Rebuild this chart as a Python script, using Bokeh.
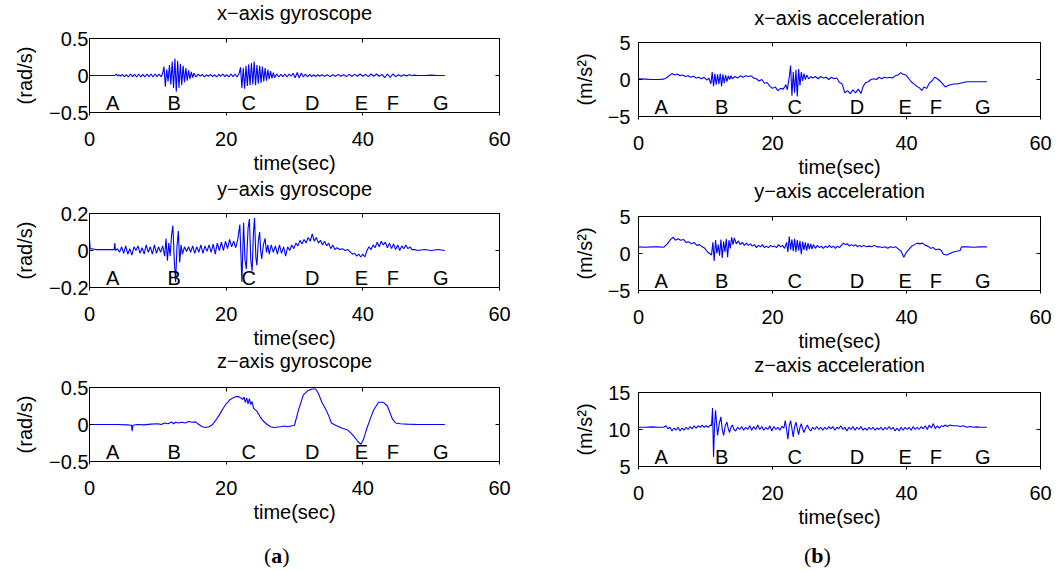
from bokeh.plotting import figure
from bokeh.layouts import row, column
from bokeh.models import Range1d, FixedTicker, LinearAxis, CustomJSTickFormatter
from bokeh.core.properties import value
from bokeh.embed import file_html
from bokeh.resources import INLINE

# ---------------- data ----------------
time_ticks = [0, 20, 40, 60]
event_labels = ["A", "B", "C", "D", "E", "F", "G"]
event_times = [3.4, 12.4, 23.3, 32.6, 39.8, 44.4, 51.4]

gyro_x = [(0,0),(2,0),(3.7,0),(3.9,0.02),(4.1,-0.005),(4.3,0.01),(4.5,-0.01),(4.8,0.015),(5.1,-0.015),(5.4,0.01),(5.7,-0.02),(6.0,0.02),(6.3,-0.015),(6.6,0.015),(6.9,-0.02),(7.2,0.02),(7.5,-0.02),(7.8,0.015),(8.1,-0.02),(8.4,0.02),(8.7,-0.015),(9.0,0.02),(9.3,-0.02),(9.6,0.02),(9.9,-0.015),(10.2,0.02),(10.5,-0.02),(10.7,0.03),
(10.9,0.12),(11.1,-0.15),(11.3,0.08),(11.5,-0.08),(11.7,0.14),(11.9,-0.12),(12.1,0.19),(12.3,-0.17),(12.5,0.23),(12.7,-0.22),(12.9,0.2),(13.1,-0.17),(13.3,0.16),(13.5,-0.13),(13.7,0.13),(13.9,-0.09),(14.1,0.1),(14.3,-0.07),(14.5,0.07),(14.7,-0.05),(14.9,0.05),(15.1,-0.03),(15.3,0.03),
(15.6,-0.02),(15.9,0.02),(16.2,-0.01),(16.5,0.015),(16.8,-0.02),(17.1,0.01),(17.4,-0.01),(17.7,0.015),(18.0,-0.015),(18.3,0.01),(18.6,-0.02),(18.9,0.015),(19.2,-0.01),(19.5,0.02),(19.8,-0.015),(20.1,0.01),(20.4,-0.02),(20.7,0.02),(21.0,-0.015),(21.3,0.02),(21.6,-0.02),(21.9,0.03),
(22.1,0.11),(22.3,-0.17),(22.5,0.1),(22.7,-0.18),(22.9,0.13),(23.1,-0.14),(23.3,0.15),(23.5,-0.13),(23.7,0.17),(23.9,-0.12),(24.1,0.19),(24.3,-0.13),(24.5,0.14),(24.7,-0.11),(24.9,0.13),(25.1,-0.1),(25.3,0.12),(25.5,-0.08),(25.7,0.1),(25.9,-0.07),(26.1,0.08),(26.3,-0.05),(26.5,0.06),(26.7,-0.04),(26.9,0.04),(27.1,-0.03),
(27.4,0.02),(27.7,-0.02),(28.0,0.015),(28.3,-0.015),(28.6,0.02),(28.9,-0.02),(29.2,0.02),(29.5,-0.01),(29.8,0.03),(30.1,-0.03),(30.4,0.04),(30.7,-0.03),(31.0,0.035),(31.3,-0.02),(31.6,0.02),(31.9,-0.02),(32.2,0.015),(32.5,-0.015),(32.8,0.01),(33.1,-0.015),(33.4,0.01),(33.7,-0.01),(34.0,0.01),(34.4,-0.01),(34.8,0.01),(35.2,-0.015),(35.6,0.01),(36.0,-0.01),(36.4,0.015),(36.8,-0.01),(37.2,0.01),(37.6,-0.015),(38.0,0.015),(38.4,-0.01),(38.8,0.015),(39.2,-0.01),(39.6,0.02),(40.0,-0.01),(40.4,0.015),(40.8,-0.015),(41.2,0.02),(41.6,-0.01),(42.0,0.02),(42.4,-0.01),(42.8,0.015),(43.2,-0.03),(43.6,0.02),(44.0,-0.025),(44.4,0.02),(44.8,-0.015),(45.2,0.01),(45.6,-0.01),(46.0,0.01),(46.4,-0.005),(46.8,0.01),(47.2,0.0),(47.6,0.005),(48.0,0.0),(49.0,0.0),(50.0,0.005),(51.0,0.0),(52.0,0.0)]

gyro_y = [(0,0.06),(0.1,0.01),(1,0.005),(2,0.005),(3,0.005),(3.6,0.005),(3.7,0.04),(3.8,0.0),(4.1,0.01),(4.4,-0.01),(4.7,0.02),(5.0,-0.015),(5.3,0.025),(5.6,-0.02),(5.9,0.01),(6.2,-0.025),(6.5,0.02),(6.8,0.0),(7.1,0.025),(7.4,-0.015),(7.7,0.015),(8.0,-0.02),(8.3,0.03),(8.6,-0.01),(8.9,0.02),(9.2,-0.02),(9.5,0.03),(9.8,-0.015),(10.1,0.02),(10.4,-0.01),(10.7,0.025),(11.0,-0.03),(11.2,0.065),(11.4,-0.055),(11.6,0.04),(11.8,-0.03),(12.0,0.08),(12.2,0.135),(12.4,-0.05),(12.6,-0.17),(12.8,0.02),(13.0,0.105),(13.2,-0.065),(13.4,0.03),(13.6,-0.02),(13.9,0.02),(14.2,-0.005),(14.5,0.02),(14.8,-0.01),(15.1,0.025),(15.4,-0.015),(15.7,0.02),(16.0,-0.01),(16.3,0.03),(16.6,-0.015),(16.9,0.025),(17.2,-0.005),(17.5,0.03),(17.8,-0.01),(18.1,0.035),(18.4,-0.02),(18.7,0.04),(19.0,0.0),(19.3,0.045),(19.6,0.0),(19.9,0.05),(20.2,0.01),(20.5,0.06),(20.8,0.02),(21.1,0.05),(21.4,0.015),(21.7,0.06),
(22.0,0.14),(22.3,-0.17),(22.55,0.15),(22.75,-0.05),(22.95,-0.1),(23.2,0.12),(23.4,0.17),(23.6,-0.05),(23.8,-0.11),(24.0,0.1),(24.15,0.175),(24.35,-0.04),(24.5,-0.08),(24.7,0.05),(24.9,0.1),(25.05,0.0),(25.2,-0.045),(25.45,0.03),(25.7,0.065),(25.9,-0.01),(26.1,0.03),(26.3,-0.02),(26.6,0.03),(26.9,-0.01),(27.2,0.025),(27.5,-0.02),(27.8,0.03),(28.1,-0.015),(28.4,0.02),(28.7,-0.03),(29.0,0.02),(29.3,0.0),(29.6,0.03),(29.9,0.01),(30.2,0.04),(30.5,0.025),(30.8,0.055),(31.1,0.035),(31.4,0.06),(31.7,0.04),(32.0,0.07),(32.3,0.05),(32.6,0.09),(32.9,0.05),(33.2,0.07),(33.5,0.04),(33.8,0.055),(34.1,0.03),(34.4,0.05),(34.7,0.025),(35.0,0.04),(35.3,0.01),(35.6,0.03),(35.9,0.005),(36.2,0.015),(36.6,0.005),(37.0,0.01),(37.4,0.0),(37.8,0.005),(38.2,-0.01),(38.5,-0.02),(38.8,-0.015),(39.1,-0.03),(39.4,-0.02),(39.7,-0.035),(40.0,-0.02),(40.3,-0.035),(40.6,0.0),(40.9,0.02),(41.2,0.005),(41.5,0.03),(41.8,0.015),(42.1,0.045),(42.4,0.02),(42.7,0.05),(43.0,0.03),(43.3,0.045),(43.6,0.015),(43.9,0.04),(44.2,0.01),(44.5,0.035),(44.8,0.005),(45.1,0.03),(45.4,0.0),(45.7,0.025),(46.0,0.01),(46.3,0.03),(46.6,0.01),(46.9,0.02),(47.2,0.005),(47.6,0.005),(48.0,0.0),(49.0,0.005),(50.0,0.0),(51.0,0.005),(52.0,0.0)]

gyro_z = [(0,0),(2,0),(4,0),(5.5,-0.005),(6.15,-0.01),(6.25,-0.09),(6.35,-0.01),(7,0),(8,-0.005),(9,0.005),(10,0.01),(10.5,0.0),(11,0.02),(11.5,0.01),(12,0.035),(12.3,0.01),(12.6,0.03),(13,0.02),(13.5,0.03),(14,0.02),(14.5,0.04),(15,0.03),(15.5,0.035),(16,0.0),(16.5,-0.03),(17,-0.04),(17.5,-0.03),(18,0.0),(18.5,0.06),(19,0.13),(19.5,0.21),(20,0.28),(20.5,0.33),(21,0.36),(21.5,0.38),(22,0.37),(22.4,0.34),(22.6,0.37),(22.8,0.3),(23.0,0.36),(23.2,0.28),(23.4,0.35),(23.6,0.27),(23.8,0.31),(24.0,0.22),(24.5,0.18),(25,0.1),(25.5,0.04),(26,0.0),(26.5,-0.03),(27,-0.04),(28,-0.03),(28.5,-0.02),(29,-0.03),(29.5,-0.02),(30,-0.01),(30.6,0.2),(31.3,0.4),(32,0.46),(32.6,0.48),(33.1,0.48),(33.5,0.42),(34,0.3),(34.5,0.22),(35,0.12),(35.4,0.02),(36,-0.01),(36.5,-0.03),(37,-0.05),(37.7,-0.07),(38.2,-0.11),(38.6,-0.15),(39.2,-0.22),(39.7,-0.27),(40.1,-0.2),(40.6,-0.05),(41.1,0.08),(41.6,0.2),(42.3,0.3),(43,0.3),(43.6,0.25),(44.3,0.08),(44.8,0.02),(45.5,0.01),(46.5,0.005),(48,0.0),(50,0.0),(52,0.0)]

acc_x = [(0,0.1),(1,0.05),(2,0.0),(3,0.0),(3.8,0.05),(4.3,0.3),(4.7,0.6),(5.0,0.8),(5.4,0.6),(5.8,0.75),(6.2,0.5),(6.6,0.6),(7.0,0.4),(7.4,0.5),(7.8,0.3),(8.2,0.45),(8.6,0.2),(9.0,0.3),(9.4,0.1),(9.8,0.3),(10.2,-0.1),(10.5,0.2),(10.8,-0.6),(11.0,1.0),(11.2,-0.9),(11.4,0.8),(11.6,-0.7),(11.8,0.7),(12.0,-0.6),(12.2,0.8),(12.4,-0.9),(12.6,0.7),(12.8,-0.5),(13.0,0.6),(13.2,-0.3),(13.4,0.5),(13.6,0.0),(13.8,0.5),(14.0,0.1),(14.4,0.4),(14.8,0.2),(15.2,0.5),(15.6,0.3),(16.0,0.5),(16.4,0.4),(16.8,0.5),(17.2,0.2),(17.6,0.1),(18.0,-0.2),(18.4,0.0),(18.8,-0.5),(19.2,-0.4),(19.6,-0.9),(20.0,-1.2),(20.4,-1.0),(20.8,-1.5),(21.2,-1.2),(21.6,-1.3),(22.0,-0.7),(22.2,-1.4),(22.5,0.3),(22.7,1.9),(22.9,-2.2),(23.1,1.0),(23.3,-1.8),(23.5,1.3),(23.7,-2.3),(23.9,1.4),(24.1,-0.8),(24.3,1.0),(24.5,-0.2),(24.7,0.8),(24.9,0.0),(25.1,0.6),(25.4,0.1),(25.7,0.4),(26.0,0.2),(26.4,0.4),(26.8,0.1),(27.2,0.4),(27.6,0.2),(28.0,0.3),(28.4,0.0),(28.8,0.3),(29.2,0.1),(29.6,0.2),(30.0,-0.4),(30.4,-0.6),(30.8,-1.8),(31.2,-1.5),(31.6,-1.9),(32.0,-1.4),(32.4,-1.8),(32.8,-1.3),(33.2,-1.9),(33.5,-1.0),(33.9,-0.4),(34.3,-0.3),(34.7,0.0),(35.1,0.1),(35.5,0.0),(35.9,0.3),(36.3,0.1),(36.7,0.3),(37.1,0.2),(37.5,0.3),(37.9,0.2),(38.3,0.5),(38.7,0.6),(39.1,0.9),(39.5,0.7),(39.9,0.6),(40.3,0.2),(40.7,-0.3),(41.1,-0.6),(41.5,-0.9),(41.9,-1.1),(42.3,-1.5),(42.6,-1.0),(43.0,-1.2),(43.4,-0.5),(43.8,-0.2),(44.2,0.3),(44.6,0.1),(45.0,-0.2),(45.4,-0.6),(45.8,-1.0),(46.2,-0.8),(46.6,-0.7),(47.0,-0.6),(47.5,-0.6),(48.0,-0.5),(48.5,-0.4),(49.0,-0.3),(50.0,-0.3),(51.0,-0.3),(52.0,-0.3)]

acc_y = [(0,0.9),(1,0.85),(2,0.9),(3,0.9),(3.8,0.85),(4.3,1.3),(4.8,1.9),(5.2,2.2),(5.5,1.8),(5.9,2.0),(6.3,1.8),(6.7,1.9),(7.1,1.5),(7.5,1.6),(7.9,1.3),(8.3,1.5),(8.7,1.1),(9.1,1.2),(9.5,0.9),(9.9,0.7),(10.3,0.2),(10.6,0.0),(10.9,-0.2),(11.1,1.5),(11.3,-1.0),(11.5,1.8),(11.7,0.0),(11.9,1.2),(12.1,-0.3),(12.3,1.9),(12.5,-0.6),(12.7,1.6),(12.9,0.2),(13.1,2.0),(13.3,-0.5),(13.5,1.8),(13.7,0.7),(13.9,2.2),(14.1,1.2),(14.3,2.1),(14.6,1.3),(14.9,1.7),(15.2,1.2),(15.5,1.5),(15.8,1.1),(16.1,1.4),(16.4,1.1),(16.7,1.3),(17.0,1.0),(17.3,1.2),(17.6,0.8),(17.9,1.1),(18.2,0.9),(18.5,1.2),(18.8,0.8),(19.1,1.0),(19.4,0.8),(19.7,1.1),(20.0,0.9),(20.3,1.0),(20.6,0.8),(20.9,1.2),(21.2,0.9),(21.5,1.1),(21.8,0.7),(22.1,1.5),(22.3,0.2),(22.5,2.3),(22.7,0.5),(22.9,1.9),(23.1,0.3),(23.3,2.0),(23.5,0.2),(23.7,1.8),(23.9,0.4),(24.1,1.7),(24.3,-0.1),(24.5,1.6),(24.7,0.5),(24.9,1.5),(25.1,0.4),(25.3,1.4),(25.5,0.6),(25.7,1.3),(25.9,0.6),(26.1,1.2),(26.4,0.7),(26.7,1.1),(27.0,0.8),(27.3,1.0),(27.6,0.7),(27.9,1.0),(28.2,0.8),(28.5,1.1),(28.8,0.8),(29.1,1.0),(29.4,0.7),(29.7,1.0),(30.0,0.8),(30.3,1.1),(30.6,1.4),(30.9,1.2),(31.2,1.3),(31.5,1.0),(31.8,1.2),(32.1,1.0),(32.4,1.2),(32.7,0.9),(33.0,1.1),(33.3,0.9),(33.6,1.1),(34.0,0.9),(34.4,1.0),(34.8,0.9),(35.2,1.1),(35.6,0.9),(36.0,0.9),(36.4,0.8),(36.8,0.9),(37.2,0.7),(37.6,0.9),(38.0,0.8),(38.4,0.9),(38.8,0.6),(39.2,0.3),(39.6,-0.5),(40.0,0.2),(40.4,0.6),(40.8,1.0),(41.2,1.2),(41.6,1.4),(42.0,1.3),(42.4,1.4),(42.8,1.1),(43.2,1.0),(43.6,0.7),(44.0,0.8),(44.4,0.5),(44.8,0.6),(45.2,0.4),(45.5,-0.1),(46.0,-0.2),(46.5,0.0),(47.0,0.2),(47.5,0.3),(48.0,0.4),(48.2,0.9),(49,0.9),(50,0.85),(51,0.9),(52,0.9)]

acc_z = [(0,10.3),(1,10.3),(2,10.35),(3,10.3),(3.8,10.3),(4.1,10.5),(4.4,10.1),(4.7,10.3),(5.0,9.8),(5.3,10.2),(5.6,9.9),(5.9,10.3),(6.2,9.8),(6.5,10.2),(6.8,9.9),(7.1,10.3),(7.4,10.0),(7.7,10.4),(8.0,10.1),(8.3,10.5),(8.6,10.2),(8.9,10.5),(9.2,10.3),(9.5,10.6),(9.8,10.3),(10.1,10.5),(10.4,10.3),(10.7,10.6),(10.9,10.5),(11.05,12.9),(11.2,6.3),(11.35,10.5),(11.5,12.6),(11.8,9.2),(12.05,10.8),(12.3,11.7),(12.5,10.0),(12.7,9.2),(12.95,10.5),(13.2,11.0),(13.4,10.1),(13.6,9.6),(13.8,10.3),(14.0,10.6),(14.25,10.0),(14.5,9.8),(14.8,10.3),(15.1,10.0),(15.4,10.4),(15.7,9.9),(16.0,10.3),(16.3,10.0),(16.6,10.5),(16.9,9.9),(17.2,10.4),(17.5,10.0),(17.8,10.6),(18.1,10.0),(18.4,10.4),(18.7,9.9),(19.0,10.3),(19.3,10.0),(19.6,10.5),(19.9,9.8),(20.2,10.4),(20.5,10.0),(20.8,10.3),(21.1,9.9),(21.4,10.4),(21.7,10.2),(21.9,11.2),(22.1,10.0),(22.3,8.7),(22.5,10.5),(22.7,11.2),(22.9,10.1),(23.1,9.0),(23.3,10.4),(23.5,11.0),(23.7,10.1),(23.9,9.3),(24.1,10.3),(24.3,10.8),(24.5,10.1),(24.7,9.6),(24.95,10.2),(25.2,10.6),(25.45,10.1),(25.7,9.8),(26.0,10.3),(26.3,10.0),(26.6,10.4),(26.9,10.0),(27.2,10.3),(27.5,9.9),(27.8,10.3),(28.1,10.0),(28.4,10.4),(28.7,10.1),(29.0,10.4),(29.3,9.9),(29.6,10.3),(29.9,10.1),(30.2,10.5),(30.5,10.0),(30.8,10.3),(31.1,9.8),(31.4,10.3),(31.7,10.0),(32.0,10.4),(32.3,9.9),(32.6,10.3),(32.9,10.0),(33.2,10.4),(33.5,9.9),(33.8,10.2),(34.1,9.9),(34.4,10.3),(34.7,10.0),(35.0,10.3),(35.3,9.9),(35.6,10.2),(35.9,10.0),(36.2,10.3),(36.5,9.9),(36.8,10.3),(37.1,10.0),(37.4,10.4),(37.7,10.0),(38.0,10.3),(38.3,9.8),(38.6,10.2),(38.9,9.8),(39.2,10.3),(39.5,9.9),(39.8,10.3),(40.1,10.0),(40.4,10.3),(40.7,9.9),(41.0,10.4),(41.3,10.0),(41.6,10.3),(41.9,10.0),(42.2,10.4),(42.5,10.1),(42.8,10.5),(43.1,10.0),(43.4,10.6),(43.7,10.2),(44.0,10.8),(44.3,10.1),(44.6,10.5),(44.9,10.2),(45.2,10.5),(45.5,10.4),(45.8,10.6),(46.1,10.4),(46.5,10.6),(47.0,10.5),(47.5,10.5),(48.0,10.4),(48.5,10.5),(49.0,10.3),(49.5,10.4),(50.0,10.3),(50.5,10.35),(51.0,10.3),(51.5,10.3),(52.0,10.3)]

# ---------------- styling / layout ----------------
FONT = "Liberation Sans"
SERIF = "Liberation Serif"
FS = "20px"
BLUE = "#0000ff"
MINUS = "\u2212"
W = 530
LBL, LBR = 89, 31      # left column: frame 89..499
RBL, RBR = 108, 20     # right column: frame 638..1040 on the page


def tick_text(v):
    return f"{v:g}".replace("-", MINUS)


def blank_axis(ticks):
    return LinearAxis(ticker=FixedTicker(ticks=ticks),
                      formatter=CustomJSTickFormatter(code="return ''"),
                      major_tick_in=4, major_tick_out=0,
                      minor_tick_line_color=None, axis_line_color=None,
                      major_tick_line_color="black",
                      major_label_standoff=0, major_label_text_font_size="1px")


def strip(h, bl, br):
    """A frameless strip aligned with the panel frames, holding text only."""
    s = figure(width=W, height=h, x_range=Range1d(0, 60), y_range=Range1d(0, h),
               output_backend="svg", toolbar_location=None,
               x_axis_type=None, y_axis_type=None,
               min_border_left=bl, min_border_right=br, min_border_top=0, min_border_bottom=0,
               background_fill_color="white", border_fill_color="white",
               outline_line_color=None)
    s.xgrid.visible = False
    s.ygrid.visible = False
    return s


def title_strip(h, text, y, bl, br):
    s = strip(h, bl, br)
    s.text(x=[30], y=[y], text=[text], text_font=value(FONT), text_font_size=value(FS),
           text_color="black", text_align=value("center"), text_baseline=value("middle"))
    return s


def caption_strip(h, letter, x, y, half_w, bl, br):
    s = strip(h, bl, br)
    common = dict(y=[y], text_font=value(SERIF), text_font_size=value("22px"),
                  text_color="black", text_baseline=value("middle"))
    s.text(x=[x], text=["("], x_offset=-half_w, text_align=value("right"),
           text_font_style=value("normal"), **common)
    s.text(x=[x], text=[letter], text_align=value("center"),
           text_font_style=value("bold"), **common)
    s.text(x=[x], text=[")"], x_offset=half_w, text_align=value("left"),
           text_font_style=value("normal"), **common)
    return s


def panel(ylabel, series, yr, yticks, bl, br, ystand, ylabstand):
    bt, fh, bb = 12, 81, 57
    p = figure(width=W, height=bt + fh + bb, x_range=Range1d(0, 60), y_range=Range1d(*yr),
               output_backend="svg", toolbar_location=None,
               min_border_left=bl, min_border_right=br,
               min_border_top=bt, min_border_bottom=bb,
               background_fill_color="white", border_fill_color="white")
    p.outline_line_color = "black"
    p.outline_line_width = 1
    p.xgrid.visible = False
    p.ygrid.visible = False

    xa = p.xaxis[0]
    xa.ticker = FixedTicker(ticks=time_ticks)
    xa.major_label_overrides = {t: tick_text(t) for t in time_ticks}
    xa.axis_label = "time(sec)"
    ya = p.yaxis[0]
    ya.ticker = FixedTicker(ticks=yticks)
    ya.major_label_overrides = {t: tick_text(t) for t in yticks}
    ya.axis_label = ylabel
    for ax in (xa, ya):
        ax.axis_line_color = "black"
        ax.major_tick_line_color = "black"
        ax.minor_tick_line_color = None
        ax.major_label_text_font = FONT
        ax.major_label_text_font_size = FS
        ax.major_label_text_color = "black"
        ax.axis_label_text_font = FONT
        ax.axis_label_text_font_size = FS
        ax.axis_label_text_font_style = "normal"
        ax.axis_label_text_color = "black"
    xa.major_tick_in = 0
    xa.major_tick_out = 3
    xa.major_label_standoff = 16
    xa.axis_label_standoff = 3
    ya.major_tick_in = 4
    ya.major_tick_out = 0
    ya.major_label_standoff = ystand
    ya.axis_label_standoff = ylabstand

    # mirrored inner ticks on the right and top edges
    p.add_layout(blank_axis(yticks), "right")
    p.add_layout(blank_axis(time_ticks), "above")

    ts = [t for t, _ in series]
    vs = [v for _, v in series]
    p.line(ts, vs, line_color=BLUE, line_width=1.1)

    span = yr[1] - yr[0]
    ly = yr[0] + 10.5 / fh * span
    p.text(x=event_times, y=[ly] * len(event_times), text=event_labels,
           text_font=value(FONT), text_font_size=value(FS), text_color="black",
           text_align=value("center"), text_baseline=value("middle"))
    return p


t1 = title_strip(26, "x\u2212axis gyroscope", 13.3, LBL, LBR)
f1 = panel("(rad/s)", gyro_x, (-0.5, 0.5), [-0.5, 0, 0.5], LBL, LBR, 1, 10)
t2 = title_strip(25, "y\u2212axis gyroscope", 12.3, LBL, LBR)
f2 = panel("(rad/s)", gyro_y, (-0.2, 0.2), [-0.2, 0, 0.2], LBL, LBR, 1, 10)
t3 = title_strip(24, "z\u2212axis gyroscope", 15.0, LBL, LBR)
f3 = panel("(rad/s)", gyro_z, (-0.5, 0.5), [-0.5, 0, 0.5], LBL, LBR, 1, 10)
ca = caption_strip(45, "a", 27.4, 15.5, 5.5, LBL, LBR)

t4 = title_strip(30, "x\u2212axis acceleration", 13.0, RBL, RBR)
f4 = panel("(m/s\u00b2)", acc_x, (-5, 5), [-5, 0, 5], RBL, RBR, 8, 9)
t5 = title_strip(24, "y\u2212axis acceleration", 13.7, RBL, RBR)
f5 = panel("(m/s\u00b2)", acc_y, (-5, 5), [-5, 0, 5], RBL, RBR, 8, 9)
t6 = title_strip(26, "z\u2212axis acceleration", 15.5, RBL, RBR)
f6 = panel("(m/s\u00b2)", acc_z, (5, 15), [5, 10, 15], RBL, RBR, 8, 9)
cb = caption_strip(40, "b", 26.7, 15.5, 6.1, RBL, RBR)

layout = row(column(t1, f1, t2, f2, t3, f3, ca), column(t4, f4, t5, f5, t6, f6, cb))
open("out.html", "w").write(file_html(layout, INLINE))
